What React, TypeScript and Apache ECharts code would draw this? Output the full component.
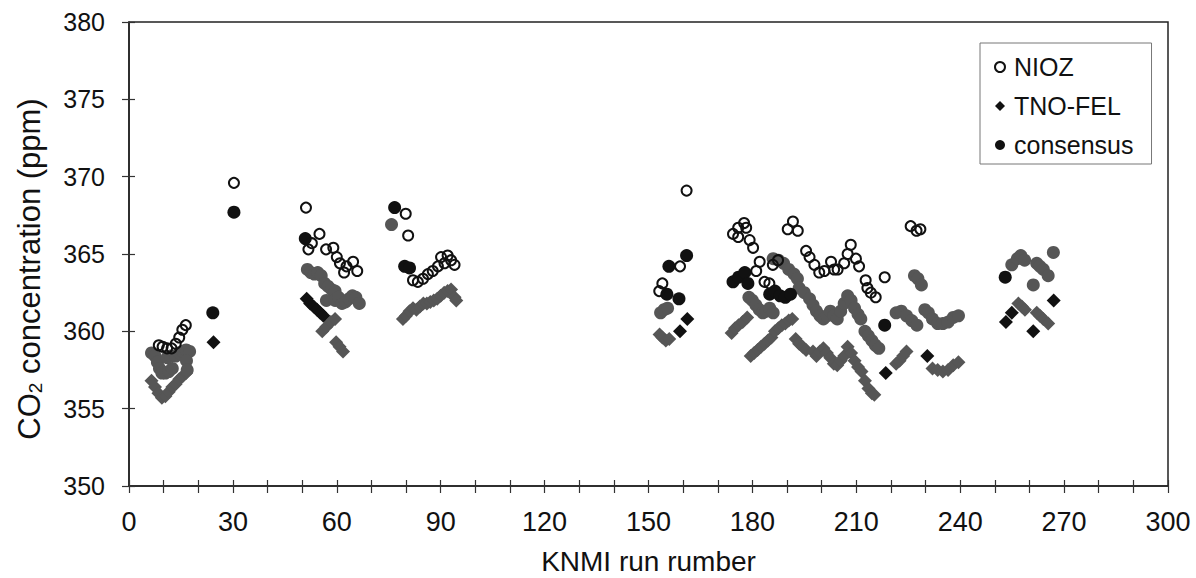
import React, { useEffect, useRef } from "react";
import * as echarts from "echarts";

const xTicks = [0, 30, 60, 90, 120, 150, 180, 210, 240, 270, 300];
const yTicks = [350, 355, 360, 365, 370, 375, 380];

const nioz: number[][] = [
  [8.6, 359.1], [9.7, 359.0], [11, 358.9], [12.3, 358.9], [13.5, 359.2], [14.5, 359.6], [15.4, 360.1], [16.4, 360.4],
  [30.3, 369.6],
  [51.1, 368.0], [55.0, 366.3], [52.8, 365.7], [51.8, 365.3], [56.9, 365.3], [59.0, 365.4], [60.0, 364.8], [60.9, 364.4],
  [62.1, 363.8], [62.8, 364.2], [64.7, 364.5], [65.9, 363.9],
  [79.9, 367.6], [80.6, 366.2],
  [82.0, 363.3], [83.4, 363.2], [84.9, 363.4], [86.3, 363.7], [87.7, 363.9], [89.2, 364.2], [90.1, 364.8], [91.1, 364.4],
  [92.0, 364.9], [93.0, 364.6], [94.0, 364.3],
  [153.1, 362.6], [154.0, 363.1], [159.1, 364.2], [161.0, 369.1],
  [174.4, 366.3], [175.9, 366.7], [177.6, 367.0], [178.2, 366.7], [175.9, 366.1], [179.2, 365.9], [180.2, 365.4],
  [181.1, 363.9], [182.1, 364.5], [183.5, 363.2], [184.9, 363.1], [185.9, 364.3], [187.4, 364.6],
  [190.2, 366.6], [191.7, 367.1], [193.1, 366.5],
  [195.5, 365.2], [196.5, 364.8], [197.9, 364.3], [199.3, 363.8], [200.8, 363.9], [202.7, 364.5], [203.6, 364.0],
  [204.6, 364.0], [206.5, 364.4], [207.5, 365.0], [208.4, 365.6], [209.9, 364.7], [210.8, 364.2],
  [212.7, 363.3], [213.2, 362.8], [214.2, 362.5], [215.6, 362.2], [218.2, 363.5],
  [225.7, 366.8], [227.4, 366.5], [228.5, 366.6],
];

const tnoDark: number[][] = [
  [24.4, 359.3], [51.3, 362.1], [52.3, 361.8], [53.3, 361.6], [54.3, 361.4], [55.2, 361.2], [56.1, 361.0],
  [159.1, 360.0], [161.2, 360.8], [218.5, 357.3], [230.5, 358.4], [253.2, 360.6], [254.9, 361.2], [261.1, 360.0], [267.0, 362.0],
];

const tnoGray: number[][] = [
  [6.5, 356.8], [7.5, 356.4], [8.5, 356.0], [9.5, 355.7], [10.5, 355.8], [11.5, 356.1], [12.5, 356.4], [13.5, 356.6],
  [14.5, 356.9], [15.5, 357.1], [16.5, 357.3],
  [55.8, 360.0], [57.0, 360.3], [58.3, 360.6], [59.5, 360.8], [59.8, 359.3], [60.8, 359.0], [61.8, 358.7],
  [79.1, 360.8], [80, 361.0], [81, 361.3], [82, 361.5], [83, 361.4], [84, 361.6], [85, 361.8], [86, 361.8], [87, 361.9],
  [88, 362.0], [89, 362.1], [90, 362.3], [91, 362.5], [92, 362.6], [93, 362.7], [94, 362.2], [94.5, 362.0],
  [153.2, 359.8], [154, 359.6], [155, 359.4], [156, 359.5],
  [174, 359.9], [175, 360.2], [176, 360.4], [177.2, 360.6], [178.5, 360.9],
  [179.5, 358.4], [180.5, 358.6], [181.5, 358.8], [182.5, 359.0], [183.5, 359.2], [184.5, 359.4], [185.5, 359.6],
  [186.5, 360.0], [187.5, 360.2], [188.5, 360.4], [189.5, 360.5], [190.5, 360.7], [191.5, 360.8],
  [192.5, 359.5], [193.5, 359.2], [194.5, 359.0], [195.5, 358.8],
  [197.5, 358.7], [198.5, 358.4], [199.5, 358.7], [200.5, 358.9], [201.5, 358.6], [202.5, 358.3], [203.5, 357.9],
  [204.5, 357.8], [205.5, 358.1], [206.5, 358.4],
  [207.5, 359.0], [208.5, 358.6], [209.5, 358.1], [210.5, 357.7], [211.5, 357.4], [212.5, 356.8], [213.5, 356.3],
  [214.5, 356.0], [215.2, 355.9],
  [221.5, 357.9], [222.5, 358.1], [223.5, 358.4], [224.5, 358.7],
  [232, 357.6], [233.5, 357.5], [235, 357.4], [236.5, 357.5], [238, 357.8], [239.5, 358.0],
  [256.8, 361.8], [257.8, 361.6], [258.7, 361.4], [262.1, 361.2], [263, 361.0], [264, 360.8], [265.4, 360.5],
];

const consDark: number[][] = [
  [24.2, 361.2], [30.3, 367.7], [50.9, 366.0], [76.7, 368.0], [79.6, 364.2], [81.0, 364.1],
  [155.3, 362.4], [155.9, 364.2], [158.8, 362.1], [161.0, 364.9],
  [174.4, 363.2], [176.0, 363.5], [177.8, 363.8], [178.7, 363.1],
  [185.0, 362.4], [186.5, 362.6], [188.0, 362.3], [189.5, 362.2], [191.0, 362.4],
  [218.2, 360.4], [253.0, 363.5],
];

const consGray: number[][] = [
  [6.5, 358.6], [7.5, 358.4], [8.2, 358.0], [8.8, 357.6], [9.5, 357.3], [10.5, 357.3], [11.5, 357.4], [12.5, 357.6],
  [11, 358.3], [12, 358.4], [13.5, 358.4], [14.5, 358.6], [15.5, 358.7], [16.5, 358.8], [17.5, 358.7], [16.6, 358.1], [16.8, 357.5],
  [51.5, 364.0], [52.5, 363.8], [53.5, 363.7], [54.5, 363.8], [55.5, 363.6],
  [56.5, 363.1], [57.5, 362.9], [58.5, 362.7], [59.5, 362.6], [57, 362.0],
  [59.5, 362.0], [60.5, 362.2], [61.5, 361.8], [62.5, 361.9], [63.5, 362.1], [64.5, 362.3], [65.5, 362.2], [66.5, 361.8],
  [75.8, 366.9],
  [153.5, 361.2], [154.5, 361.4], [155.5, 361.5],
  [186, 364.7], [187.5, 364.6], [189, 364.4], [190.5, 364.0], [192, 363.7], [193, 363.4],
  [179, 362.2], [180, 362.0], [181, 361.7], [182, 361.4], [183, 361.2], [184, 361.3], [185, 361.5], [186, 361.2],
  [193.5, 362.8], [195, 362.5], [196.5, 362.1],
  [197.5, 361.7], [198.5, 361.3], [199.5, 361.0], [200.5, 360.8], [201.5, 361.0], [202.5, 361.3], [203.5, 361.0], [204.5, 360.8],
  [205.5, 361.3], [206.5, 361.8], [207.5, 362.3], [208.5, 362.0], [209.5, 361.5], [210.5, 361.1], [211.3, 360.8],
  [212.5, 360.0], [213.5, 359.7], [214.5, 359.4], [215.5, 359.1], [216.5, 358.9],
  [226.8, 363.6], [227.8, 363.4], [228.8, 363.0],
  [221.5, 361.2], [223, 361.3], [224.5, 361.0], [226, 360.7], [227.5, 360.4],
  [229.8, 361.4], [230.8, 361.2], [232, 360.8], [233.5, 360.5], [235, 360.5], [236.5, 360.6], [238, 360.9], [239.5, 361.0],
  [254.9, 364.3], [256.5, 364.7], [257.5, 364.9], [258.6, 364.6], [261.1, 363.0], [262.1, 364.4], [263, 364.2],
  [264, 364.0], [265.4, 363.6], [266.9, 365.1],
];

const DARK = "#111111";
const GRAY = "#565656";
const FONT = "Liberation Sans, Arial, sans-serif";

function colored(points: number[][], color: string) {
  return points.map((p) => ({ value: p, itemStyle: { color, opacity: 1 } }));
}

export default function App() {
  const ref = useRef<HTMLDivElement>(null);
  useEffect(() => {
    if (!ref.current) return;
    const chart = echarts.init(ref.current, undefined, { renderer: "svg" });
    const xMin = xTicks[0];
    const xMax = xTicks[xTicks.length - 1];
    const yMin = yTicks[0];
    const yMax = yTicks[yTicks.length - 1];
    const baseX = { type: "value", min: xMin, max: xMax, interval: 10, gridIndex: 0, position: "bottom" };
    const baseY = { type: "value", min: yMin, max: yMax, interval: 5, gridIndex: 0, position: "left" };
    chart.setOption({
      animation: false,
      backgroundColor: "#ffffff",
      grid: {
        left: 129,
        right: 28,
        top: 22,
        bottom: 92,
        containLabel: false,
        outerBoundsMode: "none",
        show: true,
        borderColor: "#222",
        borderWidth: 1.5,
        backgroundColor: "transparent",
      },
      legend: {
        data: [
          { name: "NIOZ", icon: "circle", itemStyle: { color: "transparent", borderColor: DARK, borderWidth: 2 } },
          { name: "TNO-FEL", icon: "diamond" },
          { name: "consensus", icon: "circle" },
        ],
        orient: "vertical",
        left: 980,
        top: 43,
        itemWidth: 10,
        itemHeight: 10,
        itemGap: 1,
        padding: [5, 18, 0, 14],
        borderColor: "#777",
        borderWidth: 1,
        textStyle: {
          fontFamily: FONT,
          fontSize: 25,
          color: "#111",
          lineHeight: 26,
          padding: [0, 0, 12, 4],
        },
      },
      xAxis: [
        {
          ...baseX,
          name: "KNMI run rumber",
          nameLocation: "middle",
          nameGap: 61,
          nameTextStyle: { fontFamily: FONT, fontSize: 28, color: "#111" },
          axisLine: { show: true, lineStyle: { color: "#222", width: 1.5 } },
          axisTick: { show: true, inside: false, length: 7, lineStyle: { color: "#333", width: 1.2 } },
          axisLabel: {
            margin: 22,
            fontFamily: FONT,
            fontSize: 27,
            color: "#111",
            formatter: (v: number) => (xTicks.includes(v) ? String(v) : ""),
          },
          splitLine: { show: false },
        },
        {
          ...baseX,
          axisLine: { show: false },
          axisTick: { show: true, inside: true, length: 6, lineStyle: { color: "#333", width: 1.2 } },
          axisLabel: { show: false },
          splitLine: { show: false },
        },
      ],
      yAxis: [
        {
          ...baseY,
          name: "CO{sub|2} concentration (ppm)",
          nameLocation: "middle",
          nameGap: 84,
          nameRotate: 90,
          nameTextStyle: {
            fontFamily: FONT,
            fontSize: 31,
            color: "#111",
            padding: [0, 30, 0, 0],
            rich: {
              sub: { fontFamily: FONT, fontSize: 19, color: "#111", padding: [12, 0, 0, 0] },
            },
          },
          axisLine: { show: true, lineStyle: { color: "#222", width: 1.5 } },
          axisTick: { show: true, inside: false, length: 7, lineStyle: { color: "#333", width: 1.2 } },
          axisLabel: { margin: 24, fontFamily: FONT, fontSize: 25, color: "#111" },
          splitLine: { show: false },
        },
        {
          ...baseY,
          axisLine: { show: false },
          axisTick: { show: true, inside: true, length: 6, lineStyle: { color: "#333", width: 1.2 } },
          axisLabel: { show: false },
          splitLine: { show: false },
        },
      ],
      series: [
        {
          name: "NIOZ",
          type: "scatter",
          symbol: "circle",
          symbolSize: 10,
          z: 5,
          emphasis: { disabled: true },
          itemStyle: { color: "rgba(255,255,255,0)", borderColor: DARK, borderWidth: 2, opacity: 1 },
          data: nioz,
        },
        {
          name: "TNO-FEL",
          type: "scatter",
          symbol: "diamond",
          symbolSize: 14,
          z: 3,
          emphasis: { disabled: true },
          itemStyle: { color: DARK, opacity: 1 },
          data: [...colored(tnoGray, GRAY), ...colored(tnoDark, DARK)],
        },
        {
          name: "consensus",
          type: "scatter",
          symbol: "circle",
          symbolSize: 13,
          z: 4,
          emphasis: { disabled: true },
          itemStyle: { color: DARK, opacity: 1 },
          data: [...colored(consGray, GRAY), ...colored(consDark, DARK)],
        },
      ],
    });
    return () => chart.dispose();
  }, []);
  return (
    <div
      ref={ref}
      style={{ position: "absolute", left: 0, top: 0, width: 1196, height: 578, background: "#fff" }}
    />
  );
}
